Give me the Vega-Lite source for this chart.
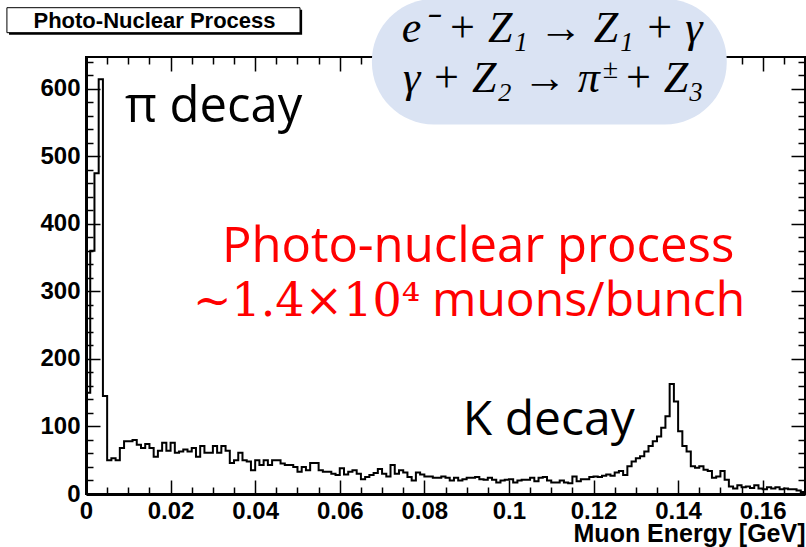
{
  "$schema": "https://vega.github.io/schema/vega-lite/v6.json",
  "width": 719,
  "height": 437,
  "autosize": {"type": "none"},
  "padding": {"left": 86, "top": 57, "right": 1, "bottom": 53},
  "background": "white",
  "config": {
    "view": {"stroke": "black", "strokeWidth": 2},
    "text": {"font": "Open Sans"}
  },
  "datasets": {
    "hist": [
      {"e":0.000,"n":150},{"e":0.001,"n":360},{"e":0.002,"n":475},{"e":0.003,"n":614},{"e":0.004,"n":145},
      {"e":0.005,"n":50},{"e":0.006,"n":53},{"e":0.007,"n":50},{"e":0.008,"n":68},{"e":0.009,"n":78},
      {"e":0.010,"n":78},{"e":0.011,"n":80},{"e":0.012,"n":73},{"e":0.013,"n":68},{"e":0.014,"n":74},
      {"e":0.015,"n":68},{"e":0.016,"n":55},{"e":0.017,"n":64},{"e":0.018,"n":76},{"e":0.019,"n":64},
      {"e":0.020,"n":76},{"e":0.021,"n":61},{"e":0.022,"n":63},{"e":0.023,"n":66},{"e":0.024,"n":63},
      {"e":0.025,"n":68},{"e":0.026,"n":55},{"e":0.027,"n":71},{"e":0.028,"n":61},{"e":0.029,"n":61},
      {"e":0.030,"n":71},{"e":0.031,"n":61},{"e":0.032,"n":71},{"e":0.033,"n":64},{"e":0.034,"n":46},
      {"e":0.035,"n":50},{"e":0.036,"n":61},{"e":0.037,"n":50},{"e":0.038,"n":48},{"e":0.039,"n":35},
      {"e":0.040,"n":50},{"e":0.041,"n":43},{"e":0.042,"n":50},{"e":0.043,"n":43},{"e":0.044,"n":50},
      {"e":0.045,"n":50},{"e":0.046,"n":45},{"e":0.047,"n":43},{"e":0.048,"n":43},{"e":0.049,"n":40},
      {"e":0.050,"n":33},{"e":0.051,"n":40},{"e":0.052,"n":35},{"e":0.053,"n":46},{"e":0.054,"n":46},
      {"e":0.055,"n":35},{"e":0.056,"n":33},{"e":0.057,"n":33},{"e":0.058,"n":30},{"e":0.059,"n":28},
      {"e":0.060,"n":38},{"e":0.061,"n":29},{"e":0.062,"n":33},{"e":0.063,"n":35},{"e":0.064,"n":30},
      {"e":0.065,"n":22},{"e":0.066,"n":25},{"e":0.067,"n":28},{"e":0.068,"n":31},{"e":0.069,"n":37},
      {"e":0.070,"n":30},{"e":0.071,"n":26},{"e":0.072,"n":43},{"e":0.073,"n":30},{"e":0.074,"n":35},
      {"e":0.075,"n":32},{"e":0.076,"n":25},{"e":0.077,"n":20},{"e":0.078,"n":32},{"e":0.079,"n":29},
      {"e":0.080,"n":26},{"e":0.081,"n":26},{"e":0.082,"n":24},{"e":0.083,"n":24},{"e":0.084,"n":26},
      {"e":0.085,"n":24},{"e":0.086,"n":20},{"e":0.087,"n":24},{"e":0.088,"n":20},{"e":0.089,"n":22},
      {"e":0.090,"n":24},{"e":0.091,"n":24},{"e":0.092,"n":25},{"e":0.093,"n":22},{"e":0.094,"n":21},
      {"e":0.095,"n":24},{"e":0.096,"n":21},{"e":0.097,"n":17},{"e":0.098,"n":20},{"e":0.099,"n":21},
      {"e":0.100,"n":22},{"e":0.101,"n":17},{"e":0.102,"n":20},{"e":0.103,"n":21},{"e":0.104,"n":21},
      {"e":0.105,"n":24},{"e":0.106,"n":19},{"e":0.107,"n":24},{"e":0.108,"n":25},{"e":0.109,"n":20},
      {"e":0.110,"n":17},{"e":0.111,"n":17},{"e":0.112,"n":20},{"e":0.113,"n":17},{"e":0.114,"n":16},
      {"e":0.115,"n":26},{"e":0.116,"n":19},{"e":0.117,"n":22},{"e":0.118,"n":22},{"e":0.119,"n":25},
      {"e":0.120,"n":26},{"e":0.121,"n":25},{"e":0.122,"n":27},{"e":0.123,"n":29},{"e":0.124,"n":27},
      {"e":0.125,"n":32},{"e":0.126,"n":34},{"e":0.127,"n":28},{"e":0.128,"n":41},{"e":0.129,"n":48},
      {"e":0.130,"n":53},{"e":0.131,"n":56},{"e":0.132,"n":63},{"e":0.133,"n":71},{"e":0.134,"n":78},
      {"e":0.135,"n":85},{"e":0.136,"n":98},{"e":0.137,"n":115},{"e":0.138,"n":163},{"e":0.139,"n":137},
      {"e":0.140,"n":93},{"e":0.141,"n":71},{"e":0.142,"n":63},{"e":0.143,"n":41},{"e":0.144,"n":39},
      {"e":0.145,"n":41},{"e":0.146,"n":36},{"e":0.147,"n":34},{"e":0.148,"n":24},{"e":0.149,"n":26},
      {"e":0.150,"n":34},{"e":0.151,"n":21},{"e":0.152,"n":11},{"e":0.153,"n":8},{"e":0.154,"n":13},
      {"e":0.155,"n":10},{"e":0.156,"n":11},{"e":0.157,"n":9},{"e":0.158,"n":13},{"e":0.159,"n":8},
      {"e":0.160,"n":7},{"e":0.161,"n":10},{"e":0.162,"n":8},{"e":0.163,"n":10},{"e":0.164,"n":7},
      {"e":0.165,"n":8},{"e":0.166,"n":7},{"e":0.167,"n":7},{"e":0.168,"n":5},{"e":0.169,"n":3},
      {"e":0.170,"n":3}
    ],
    "one": [{}]
  },
  "layer": [
    {
      "data": {"name": "hist"},
      "mark": {"type": "line", "interpolate": "step-after", "color": "black", "strokeWidth": 2},
      "encoding": {
        "x": {
          "field": "e", "type": "quantitative",
          "scale": {"domain": [0, 0.17], "nice": false, "zero": false},
          "axis": {
            "orient": "bottom",
            "values": [0,0.005,0.01,0.015,0.02,0.025,0.03,0.035,0.04,0.045,0.05,0.055,0.06,0.065,0.07,0.075,0.08,0.085,0.09,0.095,0.1,0.105,0.11,0.115,0.12,0.125,0.13,0.135,0.14,0.145,0.15,0.155,0.16,0.165,0.17],
            "labelExpr": "abs(datum.value*50 - round(datum.value*50)) < 0.001 && datum.value < 0.169 ? format(datum.value, '~g') : ''",
            "tickSize": {"condition": {"test": "abs(datum.value*50 - round(datum.value*50)) < 0.001", "value": -14}, "value": -7},
            "tickWidth": 1.5, "tickColor": "black",
            "domainColor": "black", "domainWidth": 3,
            "grid": false,
            "labelFont": "Liberation Sans", "labelFontWeight": "bold", "labelFontSize": 24, "labelColor": "black",
            "labelPadding": 19, "labelFlush": false, "labelOverlap": false, "labelBaseline": "top",
            "title": "Muon Energy [GeV]",
            "titleFont": "Liberation Sans", "titleFontWeight": "bold", "titleFontSize": 25, "titleColor": "black",
            "titleAnchor": "end", "titleAlign": "right", "titlePadding": -9
          }
        },
        "y": {
          "field": "n", "type": "quantitative",
          "scale": {"domain": [0, 647], "nice": false},
          "axis": {
            "orient": "left",
            "values": [0,20,40,60,80,100,120,140,160,180,200,220,240,260,280,300,320,340,360,380,400,420,440,460,480,500,520,540,560,580,600,620,640],
            "labelExpr": "datum.value % 100 === 0 ? format(datum.value, 'd') : ''",
            "tickSize": {"condition": {"test": "datum.value % 100 === 0", "value": -14}, "value": -7},
            "tickWidth": 1.5, "tickColor": "black",
            "domainColor": "black", "domainWidth": 3,
            "grid": false,
            "labelFont": "Liberation Sans", "labelFontWeight": "bold", "labelFontSize": 24, "labelColor": "black",
            "labelPadding": 20, "labelOverlap": false, "labelFlush": false,
            "title": null
          }
        }
      }
    },
    {
      "data": {"name": "hist"},
      "mark": {"type": "line", "interpolate": "step-after", "opacity": 0},
      "encoding": {
        "x": {
          "field": "e", "type": "quantitative",
          "axis": {
            "orient": "top",
            "values": [0,0.005,0.01,0.015,0.02,0.025,0.03,0.035,0.04,0.045,0.05,0.055,0.06,0.065,0.07,0.075,0.08,0.085,0.09,0.095,0.1,0.105,0.11,0.115,0.12,0.125,0.13,0.135,0.14,0.145,0.15,0.155,0.16,0.165,0.17],
            "labels": false, "domain": false, "grid": false, "title": null,
            "tickSize": {"condition": {"test": "abs(datum.value*50 - round(datum.value*50)) < 0.001", "value": -14}, "value": -7},
            "tickWidth": 1.5, "tickColor": "black"
          }
        },
        "y": {
          "field": "n", "type": "quantitative",
          "axis": {
            "orient": "right",
            "values": [0,20,40,60,80,100,120,140,160,180,200,220,240,260,280,300,320,340,360,380,400,420,440,460,480,500,520,540,560,580,600,620,640],
            "labels": false, "domain": false, "grid": false, "title": null,
            "tickSize": {"condition": {"test": "datum.value % 100 === 0", "value": -14}, "value": -7},
            "tickWidth": 1.5, "tickColor": "black"
          }
        }
      }
    },
    {
      "data": {"name": "one"},
      "mark": {"type": "rect", "fill": "#dae3f3", "cornerRadius": 62},
      "encoding": {
        "x": {"datum": 0.0676, "type": "quantitative", "axis": null},
        "x2": {"datum": 0.1515},
        "y": {"datum": 733, "type": "quantitative", "axis": null},
        "y2": {"datum": 547}
      }
    },
    {
      "data": {"name": "one"},
      "mark": {"type": "rect", "fill": "black"},
      "encoding": {
        "x": {"datum": -0.0182, "type": "quantitative", "axis": null},
        "x2": {"datum": 0.0511},
        "y": {"datum": 717, "type": "quantitative", "axis": null},
        "y2": {"datum": 680}
      }
    },
    {
      "data": {"name": "one"},
      "mark": {"type": "rect", "fill": "white", "stroke": "black", "strokeWidth": 1},
      "encoding": {
        "x": {"datum": -0.0187, "type": "quantitative", "axis": null},
        "x2": {"datum": 0.0506},
        "y": {"datum": 720, "type": "quantitative", "axis": null},
        "y2": {"datum": 683}
      }
    },
    {
      "data": {"name": "one"},
      "mark": {"type": "text", "text": "Photo-Nuclear Process", "font": "Liberation Sans", "fontWeight": "bold", "fontSize": 22, "align": "center", "baseline": "middle", "color": "black"},
      "encoding": {
        "x": {"datum": 0.0162, "type": "quantitative", "axis": null},
        "y": {"datum": 701, "type": "quantitative", "axis": null}
      }
    },
    {
      "data": {"name": "one"},
      "mark": {"type": "text", "text": "π decay", "fontSize": 49, "align": "left", "baseline": "alphabetic", "color": "black"},
      "encoding": {
        "x": {"datum": 0.0092, "type": "quantitative", "axis": null},
        "y": {"datum": 551, "type": "quantitative", "axis": null}
      }
    },
    {
      "data": {"name": "one"},
      "mark": {"type": "text", "text": "K decay", "fontSize": 48, "align": "left", "baseline": "alphabetic", "color": "black"},
      "encoding": {
        "x": {"datum": 0.0891, "type": "quantitative", "axis": null},
        "y": {"datum": 87.4, "type": "quantitative", "axis": null}
      }
    },
    {
      "data": {"name": "one"},
      "mark": {"type": "text", "text": "Photo-nuclear process", "fontSize": 49, "align": "center", "baseline": "alphabetic", "color": "#ff0000"},
      "encoding": {
        "x": {"datum": 0.0927, "type": "quantitative", "axis": null},
        "y": {"datum": 343.5, "type": "quantitative", "axis": null}
      }
    },
    {
      "data": {"name": "one"},
      "mark": {"type": "text", "text": "∼1.4×10⁴", "font": "DejaVu Serif", "fontSize": 46, "align": "right", "baseline": "alphabetic", "color": "#ff0000"},
      "encoding": {
        "x": {"datum": 0.0790, "type": "quantitative", "axis": null},
        "y": {"datum": 263.5, "type": "quantitative", "axis": null}
      }
    },
    {
      "data": {"name": "one"},
      "mark": {"type": "text", "text": "muons/bunch", "fontSize": 48, "align": "left", "baseline": "alphabetic", "color": "#ff0000"},
      "encoding": {
        "x": {"datum": 0.0818, "type": "quantitative", "axis": null},
        "y": {"datum": 263.5, "type": "quantitative", "axis": null}
      }
    },
    {
      "data": {"name": "one"},
      "mark": {"type": "text", "text": "e⁻ + Z₁ → Z₁ + γ", "font": "Liberation Serif", "fontStyle": "italic", "fontSize": 44, "align": "center", "baseline": "alphabetic", "color": "black"},
      "encoding": {
        "x": {"datum": 0.1102, "type": "quantitative", "axis": null},
        "y": {"datum": 669, "type": "quantitative", "axis": null}
      }
    },
    {
      "data": {"name": "one"},
      "mark": {"type": "text", "text": "γ + Z₂ → π", "font": "Liberation Serif", "fontStyle": "italic", "fontSize": 44, "align": "right", "baseline": "alphabetic", "color": "black"},
      "encoding": {
        "x": {"datum": 0.1215, "type": "quantitative", "axis": null},
        "y": {"datum": 595, "type": "quantitative", "axis": null}
      }
    },
    {
      "data": {"name": "one"},
      "mark": {"type": "text", "text": "±", "font": "Liberation Serif", "fontSize": 28, "align": "left", "baseline": "alphabetic", "color": "black"},
      "encoding": {
        "x": {"datum": 0.1222, "type": "quantitative", "axis": null},
        "y": {"datum": 616, "type": "quantitative", "axis": null}
      }
    },
    {
      "data": {"name": "one"},
      "mark": {"type": "text", "text": "+ Z₃", "font": "Liberation Serif", "fontStyle": "italic", "fontSize": 44, "align": "left", "baseline": "alphabetic", "color": "black"},
      "encoding": {
        "x": {"datum": 0.1270, "type": "quantitative", "axis": null},
        "y": {"datum": 595, "type": "quantitative", "axis": null}
      }
    }
  ],
  "resolve": {"axis": {"x": "independent", "y": "independent"}}
}
